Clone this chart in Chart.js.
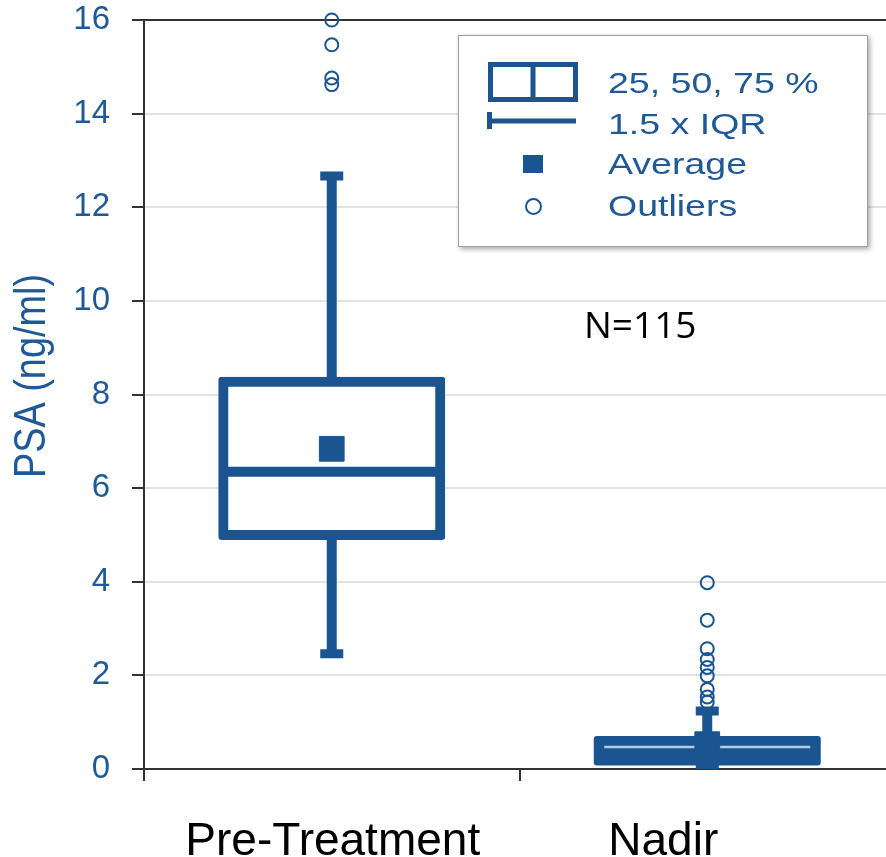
<!DOCTYPE html>
<html>
<head>
<meta charset="utf-8">
<title>PSA box plot</title>
<script src="https://cdn.jsdelivr.net/npm/chart.js@4.4.1/dist/chart.umd.min.js"></script>
<style>
  html, body { margin: 0; padding: 0; background: #fff; overflow: hidden; }
  #wrap { width: 900px; height: 857px; }
</style>
</head>
<body>
<div id="wrap"><canvas id="psa" width="900" height="857"></canvas></div>
<script>
// values (ng/ml)
var categories = ['Pre-Treatment', 'Nadir'];
var q1 = [5.0, 0.18];
var medians = [6.35, 0.47];
var q3 = [8.27, 0.6];
var whiskerLow = [2.46, 0.0];
var whiskerHigh = [12.67, 1.24];
var means = [6.84, 0.53];
var outliers = [
    [16.0, 15.47, 14.76, 14.62],
    [3.98, 3.18, 2.57, 2.34, 2.17, 1.99, 1.70, 1.54, 1.43]
];

var yMin = 0, yMax = 16, yStep = 2;
var yTitle = 'PSA (ng/ml)';
var legendLabels = ['25, 50, 75 %', '1.5 x IQR', 'Average', 'Outliers'];
var note = 'N=115';

var BLUE = '#1b5591';
var TEXT_BLUE = '#1f5a96';

function points(values) {
    return categories.map(function (c, i) {
        return { x: c, y: values[i] };
    });
}

var outlierPoints = [];
outliers.forEach(function (list, i) {
    list.forEach(function (v) {
        outlierPoints.push({ x: categories[i], y: v });
    });
});

var capPoints = points(whiskerLow).concat(points(whiskerHigh));

// labels, title, note and legend box
var decor = {
    id: 'decor',
    afterDraw: function (chart) {
        var ctx = chart.ctx;
        var x = chart.scales.x;
        var labelShift = [1, -44];

        ctx.save();

        // category names
        ctx.fillStyle = '#000';
        ctx.font = '46px "Liberation Sans", Arial, sans-serif';
        ctx.textAlign = 'center';
        ctx.textBaseline = 'alphabetic';
        categories.forEach(function (c, i) {
            ctx.fillText(c, x.getPixelForValue(i) + labelShift[i], 855);
        });

        // y title (condensed)
        ctx.save();
        ctx.translate(45, 376);
        ctx.rotate(-Math.PI / 2);
        ctx.scale(0.86, 1);
        ctx.fillStyle = TEXT_BLUE;
        ctx.font = '44px "Liberation Sans", Arial, sans-serif';
        ctx.fillText(yTitle, 0, 0);
        ctx.restore();

        // N=115
        ctx.fillStyle = '#000';
        ctx.textAlign = 'left';
        ctx.font = '37px "Open Sans", sans-serif';
        ctx.fillText(note, 584, 338);

        // legend box
        var lx = 458, ly = 35, lw = 410, lh = 212;
        ctx.save();
        ctx.shadowColor = 'rgba(0,0,0,0.35)';
        ctx.shadowBlur = 5;
        ctx.shadowOffsetX = 2;
        ctx.shadowOffsetY = 2;
        ctx.fillStyle = '#fff';
        ctx.fillRect(lx, ly, lw, lh);
        ctx.restore();
        ctx.strokeStyle = '#a0a0a0';
        ctx.lineWidth = 1;
        ctx.strokeRect(lx + 0.5, ly + 0.5, lw - 1, lh - 1);

        ctx.strokeStyle = BLUE;
        ctx.fillStyle = BLUE;
        ctx.lineWidth = 5;
        ctx.strokeRect(490.5, 64.5, 85, 35);
        ctx.beginPath();
        ctx.moveTo(533, 64.5);
        ctx.lineTo(533, 99.5);
        ctx.stroke();

        ctx.fillRect(487, 112, 5, 17);
        ctx.fillRect(487, 118.5, 89, 5);

        ctx.fillRect(523, 155, 20, 18);

        ctx.lineWidth = 2;
        ctx.beginPath();
        ctx.arc(533.5, 206.5, 7.5, 0, 2 * Math.PI);
        ctx.stroke();

        var baselines = [93, 134, 174, 216];
        ctx.fillStyle = TEXT_BLUE;
        ctx.font = '30px "Liberation Sans", Arial, sans-serif';
        legendLabels.forEach(function (t, i) {
            ctx.save();
            ctx.translate(608, baselines[i]);
            ctx.scale(1.25, 1);
            ctx.fillText(t, 0, 0);
            ctx.restore();
        });

        ctx.restore();
    }
};

var chart = new Chart(document.getElementById('psa').getContext('2d'), {
    type: 'bar',
    data: {
        labels: categories,
        datasets: [
            {
                label: 'box',
                data: categories.map(function (c, i) { return [q1[i], q3[i]]; }),
                backgroundColor: ['#ffffff', BLUE],
                borderColor: BLUE,
                borderWidth: [10, 0],
                borderSkipped: false,
                borderRadius: 3,
                inflateAmount: 5,
                barThickness: 217,
                grouped: false,
                order: 6
            },
            {
                type: 'line',
                label: 'median',
                data: points(medians),
                showLine: false,
                pointStyle: 'line',
                pointRadius: [108.5, 103],
                pointBorderWidth: [10, 2.5],
                pointBorderColor: [BLUE, '#b3cbe4'],
                clip: false,
                order: 5
            },
            {
                label: 'lower whisker',
                data: categories.map(function (c, i) { return [whiskerLow[i], q1[i]]; }),
                backgroundColor: BLUE,
                borderWidth: 0,
                inflateAmount: 0,
                barThickness: 10,
                grouped: false,
                order: 4
            },
            {
                label: 'upper whisker',
                data: categories.map(function (c, i) { return [q3[i], whiskerHigh[i]]; }),
                backgroundColor: BLUE,
                borderWidth: 0,
                inflateAmount: 0,
                barThickness: 10,
                grouped: false,
                order: 4
            },
            {
                type: 'line',
                label: 'caps',
                data: capPoints,
                showLine: false,
                pointStyle: 'line',
                pointRadius: 11.5,
                pointBorderWidth: 9,
                pointBorderColor: BLUE,
                order: 3
            },
            {
                type: 'line',
                label: 'Average',
                data: points(means),
                showLine: false,
                pointStyle: 'rect',
                pointRadius: 17.5,
                pointBorderWidth: 1,
                pointBackgroundColor: BLUE,
                pointBorderColor: BLUE,
                clip: false,
                order: 2
            },
            {
                type: 'line',
                label: 'Outliers',
                data: outlierPoints,
                showLine: false,
                pointStyle: 'circle',
                pointRadius: 6.5,
                pointBorderWidth: 2,
                pointBackgroundColor: 'rgba(255,255,255,0)',
                pointBorderColor: BLUE,
                clip: false,
                order: 1
            }
        ]
    },
    options: {
        responsive: false,
        animation: false,
        events: [],
        layout: { autoPadding: false, padding: { top: 0, right: 5, bottom: 0, left: 0 } },
        plugins: {
            legend: { display: false },
            tooltip: { enabled: false }
        },
        scales: {
            x: {
                type: 'category',
                offset: true,
                grid: {
                    offset: true,
                    drawOnChartArea: false,
                    drawTicks: true,
                    tickLength: 12,
                    color: '#333',
                    lineWidth: 2
                },
                border: { display: true, color: '#333', width: 2 },
                ticks: { display: false },
                afterFit: function (s) { s.height = 88; }
            },
            y: {
                min: yMin,
                max: yMax,
                ticks: {
                    stepSize: yStep,
                    color: TEXT_BLUE,
                    padding: 22,
                    font: { family: '"Liberation Sans", Arial, sans-serif', size: 33 }
                },
                grid: {
                    color: function (c) { return c.tick && c.tick.value === yMax ? '#333' : '#e3e3e3'; },
                    lineWidth: 2,
                    tickColor: '#333',
                    tickLength: 12
                },
                border: { display: true, color: '#333', width: 2 },
                afterFit: function (s) {
                    s.width = 144;
                    s.paddingTop = 20;
                    s.paddingBottom = 0;
                }
            }
        }
    },
    plugins: [decor]
});
</script>
</body>
</html>
